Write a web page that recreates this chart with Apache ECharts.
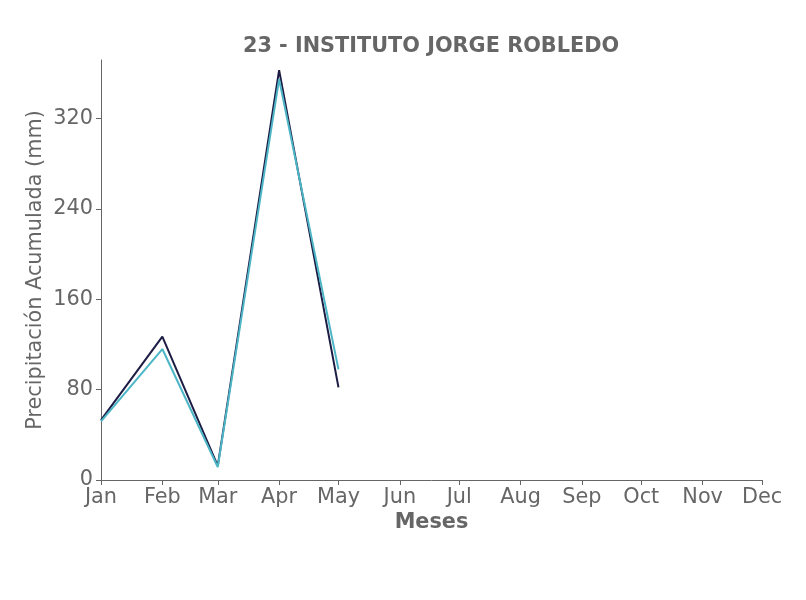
<!DOCTYPE html>
<html>
<head>
<meta charset="utf-8">
<script src="https://cdn.jsdelivr.net/npm/echarts@6/dist/echarts.min.js"></script>
<style>html,body{margin:0;padding:0;background:#fff;}#c{width:806px;height:600px;}</style>
</head>
<body>
<div id="c"></div>
<script>
const monthNames = ['Jan','Feb','Mar','Apr','May','Jun','Jul','Aug','Sep','Oct','Nov','Dec'];
const monthDay = [0,31,59,90,120,151,181,212,243,273,304,334];
const yTicks = [0,80,160,240,320];
const seriesDarkName = 'Serie 1';
const seriesDark = [53,127,12.5,363,82];
const seriesCyanName = 'Serie 2';
const seriesCyan = [52,116,11.5,355,98];

const txt = '#666666';
const font = 'DejaVu Sans';
const fs = 20.8;
const chart = echarts.init(document.getElementById('c'), null, {renderer:'canvas'});
const toPts = arr => arr.map((v,i)=>[monthDay[i], v]);
chart.setOption({
  animation:false,
  backgroundColor:'#ffffff',
  title:{text:'23 - INSTITUTO JORGE ROBLEDO', left:426, top:31, textAlign:'center',
    textStyle:{fontFamily:font, fontSize:fs, fontWeight:'bold', color:txt}},
  grid:{left:101, right:44, top:60, bottom:120},
  xAxis:{type:'value', min:0, max:334,
    name:'Meses', nameLocation:'middle', nameGap:32, nameMoveOverlap:false,
    nameTextStyle:{fontFamily:font, fontSize:fs, fontWeight:'bold', color:txt},
    axisLine:{lineStyle:{color:txt, width:1}},
    axisTick:{show:true, length:5, lineStyle:{color:txt}, customValues:monthDay},
    axisLabel:{customValues:monthDay, fontFamily:font, fontSize:fs, color:txt, margin:7,
      formatter:v=>monthNames[monthDay.indexOf(v)]},
    splitLine:{show:false}},
  yAxis:{type:'value', min:0, max:372,
    name:'Precipitación Acumulada (mm)', nameLocation:'middle', nameGap:55, nameRotate:90,
    nameMoveOverlap:false,
    nameTextStyle:{fontFamily:font, fontSize:fs, color:txt},
    axisLine:{show:true, lineStyle:{color:txt, width:1}},
    axisTick:{show:true, length:5, lineStyle:{color:txt}, customValues:yTicks},
    axisLabel:{customValues:yTicks, fontFamily:font, fontSize:fs, color:txt, margin:8},
    splitLine:{show:false}},
  series:[
    {name:seriesDarkName, type:'line', data:toPts(seriesDark), symbol:'none',
      lineStyle:{color:'#1c1c45', width:2}},
    {name:seriesCyanName, type:'line', data:toPts(seriesCyan), symbol:'none',
      lineStyle:{color:'#4db6c6', width:2}}
  ]
});
</script>
</body>
</html>
